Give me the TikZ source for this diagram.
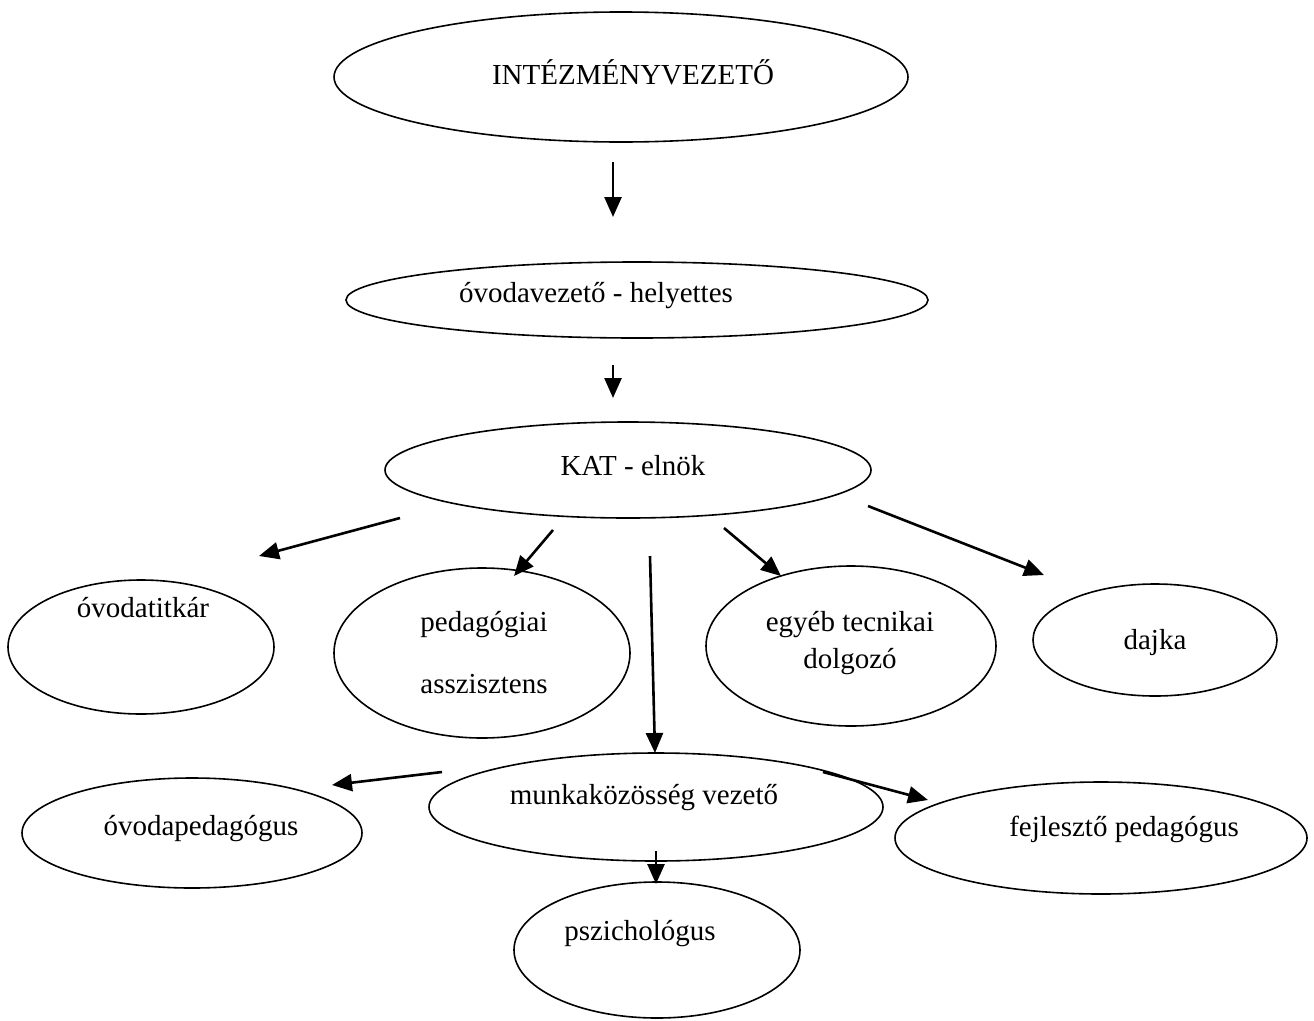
\documentclass[tikz,border=0pt]{standalone}
\usepackage{fontspec}
\setmainfont{Liberation Serif}
\usetikzlibrary{shapes.geometric,arrows.meta}
\tikzset{
  oval/.style={draw,ellipse,line width=1.6pt,inner sep=0pt},
  lbl/.style={font=\fontsize{29}{33}\selectfont,inner sep=0pt},
  arr/.style={line width=2.6pt,-{Triangle[length=20pt,width=17pt]}}
}
\newcommand{\myoval}[5]{\node[oval,minimum width=#4pt,minimum height=#5pt] (#1) at (#2,#3) {};}
\begin{document}
\begin{tikzpicture}[x=1pt,y=-1pt]
\useasboundingbox (0,0) rectangle (1314,1020);
% ellipses
\myoval{e1}{621}{77}{574}{130}
\myoval{e2}{637}{300}{582}{76}
\myoval{e3}{628}{470}{486}{96}
\myoval{e4}{141}{647}{266}{134}
\myoval{e5}{482}{653}{296}{170}
\myoval{e6}{851}{646}{290}{160}
\myoval{e7}{1155}{640}{244}{112}
\myoval{e8}{656}{807}{454}{108}
\myoval{e9}{192}{833}{340}{110}
\myoval{e10}{1101}{838}{412}{112}
\myoval{e11}{657}{950}{286}{136}
% labels
\node[lbl] (t1) at (633,72) {INTÉZMÉNYVEZETŐ};
\node[lbl] (t2) at (596,296) {óvodavezető - helyettes};
\node[lbl] (t3) at (633,466) {KAT - elnök};
\node[lbl] (t4) at (143,608) {óvodatitkár};
\node[lbl] (t5a) at (484,625) {pedagógiai};
\node[lbl] (t5b) at (484,684) {asszisztens};
\node[lbl] (t6a) at (850,625) {egyéb tecnikai};
\node[lbl] (t6b) at (850,662) {dolgozó};
\node[lbl] (t7) at (1155,643) {dajka};
\node[lbl] (t8) at (644,798) {munkaközösség vezető};
\node[lbl] (t9) at (201,829) {óvodapedagógus};
\node[lbl] (t10) at (1124,829) {fejlesztő pedagógus};
\node[lbl] (t11) at (640,934) {pszichológus};
% arrow endpoints
\coordinate (a1s) at (613,162); \coordinate (a1e) at (613,217);
\coordinate (a2s) at (613,365); \coordinate (a2e) at (613,398);
\coordinate (a3s) at (400,518); \coordinate (a3e) at (259,556);
\coordinate (a4s) at (553,530); \coordinate (a4e) at (514,576);
\coordinate (a5s) at (650,556); \coordinate (a5e) at (655,753);
\coordinate (a6s) at (724,528); \coordinate (a6e) at (781,576);
\coordinate (a7s) at (868,506); \coordinate (a7e) at (1044,575);
\coordinate (a8s) at (442,772); \coordinate (a8e) at (332,785);
\coordinate (a9s) at (823,772); \coordinate (a9e) at (928,800);
\coordinate (a10s) at (656,851); \coordinate (a10e) at (656,884);
\foreach \i in {1,...,10} \draw[arr] (a\i s) -- (a\i e);
\end{tikzpicture}
\end{document}
